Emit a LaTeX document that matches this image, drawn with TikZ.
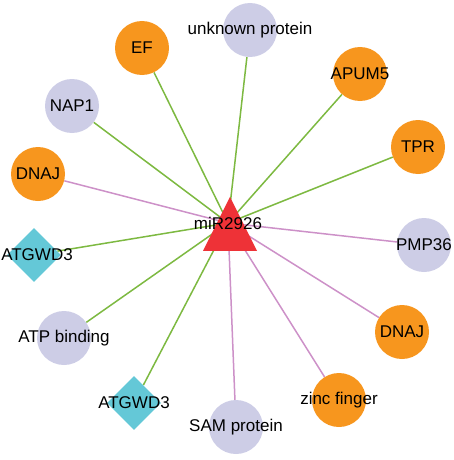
\documentclass[tikz,border=0pt]{standalone}
\usepackage{fontspec}
\setmainfont{Liberation Sans}
\usetikzlibrary{shapes.geometric,backgrounds}
\definecolor{famOrange}{RGB}{247,150,30}
\definecolor{protLav}{RGB}{205,205,230}
\definecolor{domCyan}{RGB}{100,200,215}
\definecolor{mirRed}{RGB}{238,50,55}
\definecolor{linkGreen}{RGB}{125,185,65}
\definecolor{linkPink}{RGB}{205,145,200}

\begin{document}
\begin{tikzpicture}[x=1pt, y=-1pt,
      font=\fontsize{17}{20}\selectfont,
      fam/.style={circle, fill=famOrange, minimum size=54pt, inner sep=0pt},
      prot/.style={circle, fill=protLav, minimum size=54pt, inner sep=0pt},
      dom/.style={diamond, fill=domCyan, minimum size=54pt, inner sep=0pt},
      hub/.style={isosceles triangle, shape border rotate=90, isosceles triangle stretches,
        fill=mirRed, minimum width=54pt, minimum height=54pt, inner sep=0pt},
      link/.style={line width=1.5pt}]
    \useasboundingbox (0,0) rectangle (454,460);
    \node[hub, anchor=south] (mir) at (230,251) {};
    \node[inner sep=0pt] (mirtxt) at (228,223) {miR2926};
    \node[prot, label=center:{unknown protein}] (unk) at (250,30) {};
    \node[fam, label=center:EF] (ef) at (142,48) {};
    \node[fam, label=center:APUM5] (apum) at (360,74) {};
    \node[prot, label=center:NAP1] (nap) at (72,106) {};
    \node[fam, label=center:TPR] (tpr) at (418,147) {};
    \node[fam, label=center:DNAJ] (dnajl) at (38,174) {};
    \node[prot, label=center:PMP36] (pmp) at (424,245) {};
    \node[dom, label={[xshift=3pt]center:ATGWD3}] (atgl) at (34,255) {};
    \node[fam, label=center:DNAJ] (dnajr) at (402,332) {};
    \node[prot, label=center:{ATP binding}] (atp) at (64,338) {};
    \node[fam, label=center:{zinc finger}] (zinc) at (339,400) {};
    \node[dom, label=center:ATGWD3] (atgb) at (134,403) {};
    \node[prot, label=center:{SAM protein}] (sam) at (236,427) {};
    \begin{scope}[on background layer]
      \foreach \n in {unk,ef,apum,nap,tpr,atgl,atp,atgb}
        \draw[link, linkGreen] (mirtxt.center) -- (\n);
      \foreach \n in {dnajl,pmp,dnajr,zinc,sam}
        \draw[link, linkPink] (mirtxt.center) -- (\n);
    \end{scope}
  \end{tikzpicture}
\end{document}
